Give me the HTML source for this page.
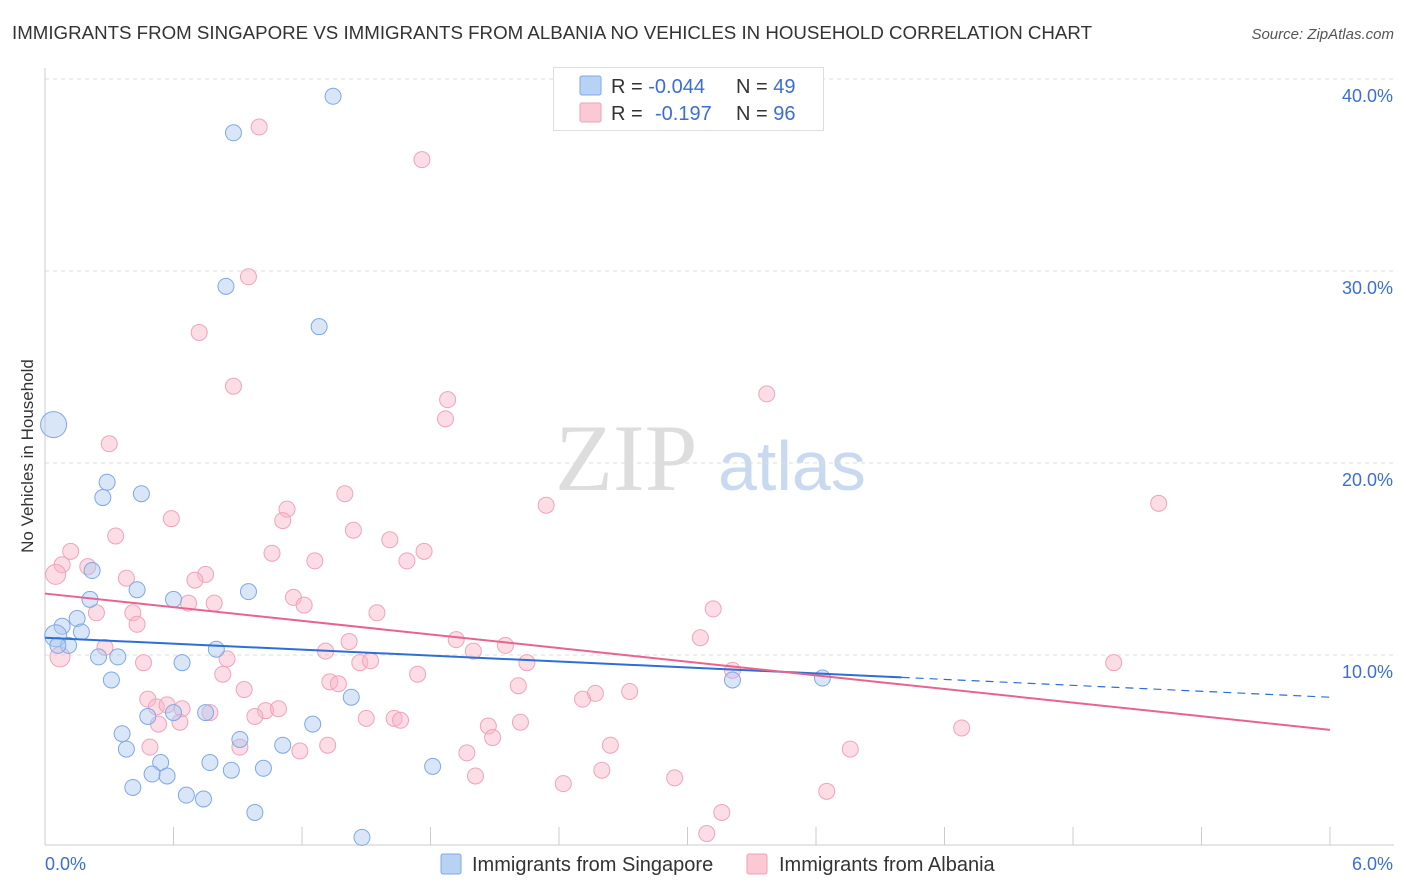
<!DOCTYPE html>
<html><head><meta charset="utf-8"><style>
body{margin:0;background:#fff;font-family:"Liberation Sans",sans-serif;}
#wrap{position:relative;width:1406px;height:892px;overflow:hidden;}
</style></head><body>
<div id="wrap">
<svg id="svg" width="1406" height="892">
<text x="12" y="39" font-size="18" fill="#333" textLength="1080" lengthAdjust="spacingAndGlyphs">IMMIGRANTS FROM SINGAPORE VS IMMIGRANTS FROM ALBANIA NO VEHICLES IN HOUSEHOLD CORRELATION CHART</text>
<text x="1394" y="39" font-size="15" fill="#555" font-style="italic" text-anchor="end">Source: ZipAtlas.com</text>
<text x="33" y="456" font-size="17" fill="#333" text-anchor="middle" transform="rotate(-90 33 456)">No Vehicles in Household</text>
<text x="555" y="490" font-size="95" fill="#ddd" font-family="Liberation Serif,serif">ZIP</text>
<text x="718" y="490" font-size="70" fill="#c9daf0">atlas</text>
<g id="grid"></g><g id="axes"></g><g id="pts"></g><g id="reg"></g>
<g>
<rect x="553.5" y="67.5" width="270" height="63" fill="#fff" stroke="#ddd"/>
<rect x="580" y="76" width="21" height="19" fill="#b8d2f5" stroke="#7fa8e6" rx="2"/>
<rect x="580" y="103" width="21" height="19" fill="#fbc8d6" stroke="#f0a0b8" rx="2"/>
<text x="611" y="93" font-size="20" fill="#333">R = <tspan fill="#3a6fd0">-0.044</tspan></text>
<text x="736" y="93" font-size="20" fill="#333">N = <tspan fill="#3a6fd0">49</tspan></text>
<text x="611" y="120" font-size="20" fill="#333">R = </text><text x="655" y="120" font-size="20" fill="#3a6fd0">-0.197</text>
<text x="736" y="120" font-size="20" fill="#333">N = <tspan fill="#3a6fd0">96</tspan></text>
</g>
<g>
<rect x="441" y="854" width="20" height="20" fill="#b8d2f5" stroke="#7fa8e6" rx="2"/>
<text x="472" y="871" font-size="20" fill="#333">Immigrants from Singapore</text>
<rect x="747" y="854" width="20" height="20" fill="#fbc8d6" stroke="#f0a0b8" rx="2"/>
<text x="779" y="871" font-size="20" fill="#333">Immigrants from Albania</text>
</g>
</svg></div>
<script>
const yTicks=[10,20,30,40];
const xTickLabels=["0.0%","6.0%"];
const blueX=[1.345,0.88,0.845,1.28,0.04,0.29,0.27,0.45,0.22,0.43,0.95,0.60,0.21,0.15,0.08,0.17,0.05,0.11,0.06,0.25,0.34,0.64,0.80,0.31,3.21,3.63,1.43,0.48,0.75,0.36,1.25,0.91,0.38,1.11,0.77,0.54,0.50,0.57,0.87,1.02,1.81,0.41,0.66,0.74,0.98,1.48,0.60];
const blueY=[39.1,37.2,29.2,27.1,22.0,19.0,18.2,18.4,14.4,13.4,13.3,12.9,12.9,11.9,11.5,11.2,11.0,10.5,10.5,9.9,9.9,9.6,10.3,8.7,8.7,8.8,7.8,6.8,7.0,5.9,6.4,5.6,5.1,5.3,4.4,4.4,3.8,3.7,4.0,4.1,4.2,3.1,2.7,2.5,1.8,0.5,7.0];
const pinkX=[1.00,1.76,0.95,0.72,0.88,1.88,3.37,1.87,0.30,1.40,2.34,5.20,1.13,0.59,1.11,1.44,0.33,1.61,0.12,1.06,1.77,1.26,1.69,0.08,0.20,0.05,0.38,0.75,0.70,1.16,0.67,0.79,1.21,0.24,0.41,1.55,0.43,3.12,3.06,1.92,1.42,0.28,1.31,2.00,2.15,0.07,0.46,1.47,1.52,0.85,2.25,4.99,0.83,1.74,3.21,1.33,1.37,2.21,0.93,2.73,2.57,2.51,0.48,0.52,0.57,0.64,0.77,1.03,1.09,0.98,0.63,0.53,2.07,2.22,1.50,1.63,1.66,4.28,2.09,2.64,0.91,1.32,0.49,1.19,1.97,3.76,2.01,2.60,2.94,2.42,3.65,3.16,3.09];
const pinkY=[37.5,35.8,29.7,26.8,24.0,23.3,23.6,22.3,21.0,18.4,17.8,17.9,17.6,17.1,17.0,16.5,16.2,16.0,15.4,15.3,15.4,14.9,14.9,14.7,14.6,14.2,14.0,14.2,13.9,13.0,12.7,12.7,12.6,12.2,12.2,12.2,11.6,12.4,10.9,10.8,10.7,10.4,10.2,10.2,10.5,9.9,9.6,9.6,9.7,9.8,9.6,9.6,9.0,9.0,9.2,8.6,8.5,8.4,8.2,8.1,8.0,7.7,7.7,7.3,7.4,7.2,7.0,7.1,7.2,6.8,6.5,6.4,6.3,6.5,6.7,6.7,6.6,6.2,5.7,5.3,5.2,5.3,5.2,5.0,4.9,5.1,3.7,4.0,3.6,3.3,2.9,1.8,0.7];
const blueSize=[8,8,8,8,13,8,8,8,8,8,8,8,8,8,8,8,11,8,8,8,8,8,8,8,8,8,8,8,8,8,8,8,8,8,8,8,8,8,8,8,8,8,8,8,8,8,8];
const blueReg=[10.9,6.0,7.8];
const pinkReg=[13.2,6.0,6.1];
const NS="http://www.w3.org/2000/svg";
const X0=45,X1=1330,Y0=847,PY=19.2;
const xs=v=>X0+v/6*(X1-X0), ys=v=>Y0-v*PY;
function mk(t,a,p){const e=document.createElementNS(NS,t);for(const k in a)e.setAttribute(k,a[k]);p.appendChild(e);return e;}
const grid=document.getElementById('grid'),axes=document.getElementById('axes'),pts=document.getElementById('pts'),reg=document.getElementById('reg');
yTicks.forEach(t=>{
 const l=mk('line',{x1:X0,x2:1394,y1:ys(t),y2:ys(t),stroke:'#ddd','stroke-dasharray':'4,4'},grid);
 
 
 const tx=mk('text',{x:1393,y:ys(t)+23,'font-size':18,fill:'#3a6fd0','text-anchor':'end'},axes);
 tx.textContent=t.toFixed(1)+'%';
 
 
});
const ax=mk('line',{x1:X0,x2:1394,y1:Y0-2,y2:Y0-2,stroke:'#ccc'},axes);


const ay=mk('line',{x1:X0,x2:X0,y1:68,y2:Y0-2,stroke:'#ccc'},axes);


for(let i=0;i<=10;i++){const t=mk('line',{x1:xs(i*0.6),x2:xs(i*0.6),y1:Y0-2,y2:Y0-20,stroke:'#ccc'},axes);
 
 }
[[0,'start',45],[6,'end',1393]].forEach((d,i)=>{const t=mk('text',{x:d[2],y:870,'font-size':18,fill:'#3a6fd0','text-anchor':d[1]},axes);t.textContent=xTickLabels[i];
 
 });
pinkX.forEach((x,i)=>{const c=mk('circle',{cx:xs(x),cy:ys(pinkY[i]),r:(i==25||i==45)?10:8,fill:'rgba(248,180,200,0.45)',stroke:'#f0a3bb','stroke-width':1},pts);
 
 });
blueX.forEach((x,i)=>{const c=mk('circle',{cx:xs(x),cy:ys(blueY[i]),r:blueSize[i],fill:'rgba(170,200,240,0.45)',stroke:'#7fa8e6','stroke-width':1},pts);
 
 });
const bs=(blueReg[2]-blueReg[0])/blueReg[1];
const b1=mk('line',{x1:xs(0),y1:ys(blueReg[0]),x2:xs(4.0),y2:ys(blueReg[0]+bs*4.0),stroke:'#2d6fd6','stroke-width':2},reg);


const b2=mk('line',{x1:xs(4.0),y1:ys(blueReg[0]+bs*4.0),x2:xs(6),y2:ys(blueReg[2]),stroke:'#2d6fd6','stroke-width':1.2,'stroke-dasharray':'8,6'},reg);


const p1=mk('line',{x1:xs(0),y1:ys(pinkReg[0]),x2:xs(pinkReg[1]),y2:ys(pinkReg[2]),stroke:'#e8638f','stroke-width':2},reg);


</script>
</body></html>
